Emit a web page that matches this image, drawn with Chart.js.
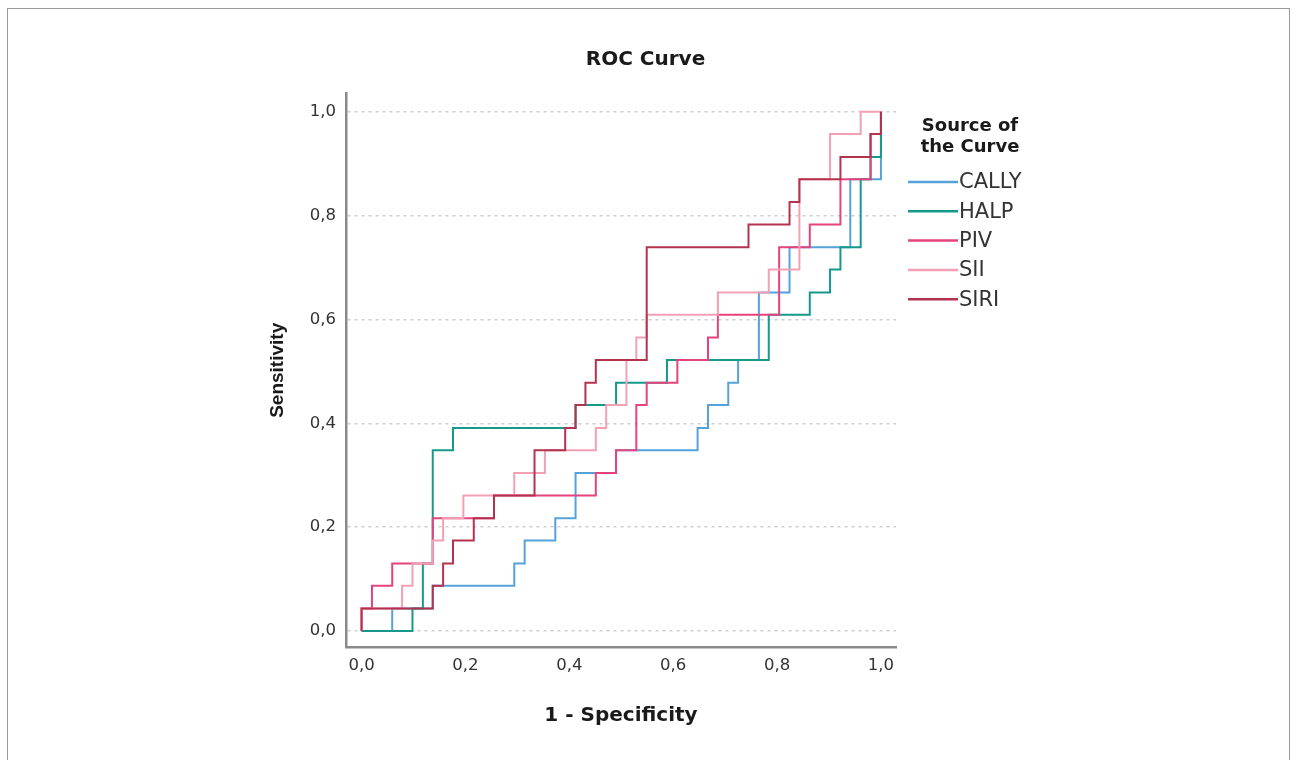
<!DOCTYPE html>
<html>
<head>
<meta charset="utf-8">
<script src="https://cdn.jsdelivr.net/npm/chart.js@4.4.1/dist/chart.umd.min.js"></script>
<style>
  html, body { margin:0; padding:0; background:#fff; overflow:hidden; }
  #frame { position:absolute; left:7px; top:8px; width:1283px; height:800px; border:1px solid #9a9a9a; box-sizing:border-box; }
  #wrap { position:absolute; left:250px; top:0; width:791px; height:760px; }
</style>
</head>
<body>
<div id="frame"></div>
<div id="wrap"><canvas id="c" width="791" height="760"></canvas></div>
<script>
// ---- data (ROC step corners: 1 - specificity, sensitivity) ----
const SERIES = ['CALLY', 'HALP', 'PIV', 'SII', 'SIRI'];
const TICKS = [0, 0.2, 0.4, 0.6, 0.8, 1.0];
const TICK_LABELS = ['0,0', '0,2', '0,4', '0,6', '0,8', '1,0'];
const LEGEND_TITLE = ['Source of', 'the Curve'];

const CALLY_X = [0, .059, .059, .137, .137, .294, .294, .314, .314, .373, .373, .412, .412, .490, .490, .647, .647, .667, .667, .706, .706, .725, .725, .765, .765, .824, .824, .941, .941, 1, 1];
const CALLY_Y = [0, 0, .043, .043, .087, .087, .130, .130, .174, .174, .217, .217, .304, .304, .348, .348, .391, .391, .435, .435, .478, .478, .522, .522, .652, .652, .739, .739, .870, .870, 1];

const HALP_X = [0, .098, .098, .118, .118, .137, .137, .176, .176, .412, .412, .490, .490, .588, .588, .784, .784, .863, .863, .902, .902, .922, .922, .961, .961, .980, .980, 1, 1];
const HALP_Y = [0, 0, .043, .043, .130, .130, .348, .348, .391, .391, .435, .435, .478, .478, .522, .522, .609, .609, .652, .652, .696, .696, .739, .739, .870, .870, .913, .913, 1];

const PIV_X = [0, 0, .020, .020, .059, .059, .137, .137, .255, .255, .451, .451, .490, .490, .529, .529, .549, .549, .608, .608, .667, .667, .686, .686, .804, .804, .863, .863, .922, .922, .980, .980, 1, 1];
const PIV_Y = [0, .043, .043, .087, .087, .130, .130, .217, .217, .261, .261, .304, .304, .348, .348, .435, .435, .478, .478, .522, .522, .565, .565, .609, .609, .739, .739, .783, .783, .870, .870, .957, .957, 1];

const SII_X = [0, 0, .078, .078, .098, .098, .137, .137, .157, .157, .196, .196, .294, .294, .353, .353, .451, .451, .471, .471, .510, .510, .529, .529, .549, .549, .686, .686, .784, .784, .843, .843, .902, .902, .961, .961, 1];
const SII_Y = [0, .043, .043, .087, .087, .130, .130, .174, .174, .217, .217, .261, .261, .304, .304, .348, .348, .391, .391, .435, .435, .522, .522, .565, .565, .609, .609, .652, .652, .696, .696, .870, .870, .957, .957, 1, 1];

const SIRI_X = [0, 0, .137, .137, .157, .157, .176, .176, .216, .216, .255, .255, .333, .333, .392, .392, .412, .412, .431, .431, .451, .451, .549, .549, .745, .745, .824, .824, .843, .843, .922, .922, .980, .980, 1, 1];
const SIRI_Y = [0, .043, .043, .087, .087, .130, .130, .174, .174, .217, .217, .261, .261, .348, .348, .391, .391, .435, .435, .478, .478, .522, .522, .739, .739, .783, .783, .826, .826, .870, .870, .913, .913, .957, .957, 1];

const COLORS = ['#55a2da', '#16998a', '#e6437d', '#f4a0b4', '#b3334e'];
const XS = [CALLY_X, HALP_X, PIV_X, SII_X, SIRI_X];
const YS = [CALLY_Y, HALP_Y, PIV_Y, SII_Y, SIRI_Y];

const datasets = SERIES.map((name, i) => ({
  label: name,
  data: XS[i].map((x, k) => ({ x: x, y: YS[i][k] })),
  borderColor: COLORS[i],
  backgroundColor: COLORS[i],
  borderWidth: 2,
  pointRadius: 0,
  tension: 0,
  fill: false,
  order: SERIES.length - i
}));

const legendPlugin = {
  id: 'rocLegend',
  afterDraw(chart) {
    const ctx = chart.ctx;
    ctx.save();
    ctx.fillStyle = '#1a1a1a';
    ctx.font = 'bold 18px "DejaVu Sans"';
    ctx.textAlign = 'center';
    ctx.textBaseline = 'middle';
    LEGEND_TITLE.forEach((t, i) => ctx.fillText(t, 720, 126 + i * 21));
    SERIES.forEach((name, i) => {
      const y = 182 + i * 29.3;
      ctx.strokeStyle = COLORS[i];
      ctx.lineWidth = 2.5;
      ctx.beginPath(); ctx.moveTo(658, y); ctx.lineTo(708, y); ctx.stroke();
      ctx.font = '21px "DejaVu Sans"';
      ctx.textAlign = 'left';
      ctx.fillStyle = '#333';
      ctx.fillText(name, 709, y + 1);
    });
    ctx.restore();
  }
};

new Chart(document.getElementById('c'), {
  type: 'line',
  data: { datasets },
  plugins: [legendPlugin],
  options: {
    responsive: false,
    animation: false,
    events: [],
    layout: { padding: { left: 0, right: 0, top: 20, bottom: 13 } },
    plugins: {
      legend: { display: false },
      tooltip: { enabled: false },
      title: {
        display: true,
        text: 'ROC Curve',
        color: '#1a1a1a',
        font: { family: 'DejaVu Sans', size: 20, weight: 'bold' },
        padding: { top: 28, bottom: 21.6 }
      }
    },
    scales: {
      x: {
        type: 'linear',
        min: -0.03, max: 1.029,
        afterBuildTicks: s => { s.ticks = TICKS.map(v => ({ value: v })); },
        afterFit: s => { s.height = 100; },
        ticks: {
          color: '#333', padding: 9,
          font: { family: 'DejaVu Sans', size: 16.5 },
          callback: (v) => TICK_LABELS[TICKS.findIndex(t => Math.abs(t - v) < 1e-6)]
        },
        grid: { display: false, drawTicks: false },
        border: { display: true, color: '#8a8a8a', width: 2.5 },
        title: {
          display: true, text: '1 - Specificity', color: '#1a1a1a',
          font: { family: 'DejaVu Sans', size: 20, weight: 'bold' },
          padding: { top: 0, bottom: 19 }
        }
      },
      y: {
        type: 'linear',
        min: -0.031, max: 1.035,
        afterBuildTicks: s => { s.ticks = TICKS.map(v => ({ value: v })); },
        afterFit: s => { s.width = 96; },
        ticks: {
          color: '#333', padding: 10,
          font: { family: 'DejaVu Sans', size: 16.5 },
          callback: (v) => TICK_LABELS[TICKS.findIndex(t => Math.abs(t - v) < 1e-6)]
        },
        grid: { display: true, drawTicks: false, color: '#cdcdcd', lineWidth: 1.5 },
        border: { display: true, color: '#8a8a8a', width: 2.5, dash: [3, 4] },
        title: {
          display: true, text: 'Sensitivity', color: '#1a1a1a',
          font: { family: 'Liberation Sans', size: 19, weight: 'bold' },
          padding: { top: 16.6, bottom: 0 }
        }
      },
      legendSpace: {
        type: 'linear',
        position: 'right',
        display: true,
        afterFit: s => { s.width = 145; },
        ticks: { display: false },
        grid: { display: false, drawTicks: false },
        border: { display: false }
      }
    }
  }
});
</script>
</body>
</html>
